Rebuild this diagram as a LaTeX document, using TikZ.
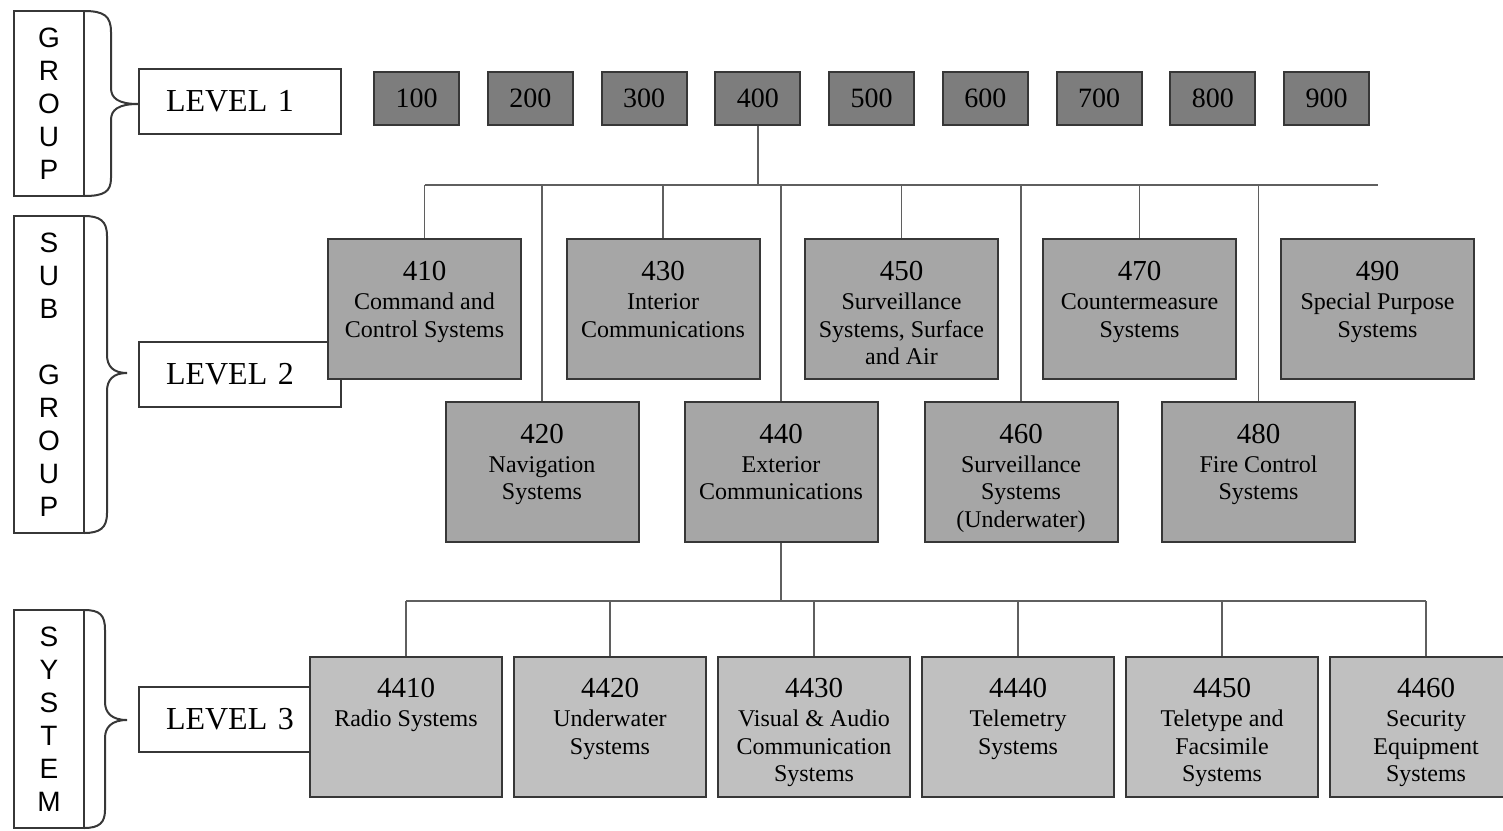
\documentclass[tikz,border=0pt]{standalone}
\usepackage{fontspec}
\setmainfont{Liberation Serif}
\setsansfont{Liberation Sans}
\usepackage{tikz}
\usetikzlibrary{positioning}

\definecolor{topgray}{RGB}{125,125,125}
\definecolor{subgray}{RGB}{166,166,166}
\definecolor{sysgray}{RGB}{192,192,192}
\definecolor{edgegray}{RGB}{55,55,55}
\definecolor{linkgray}{RGB}{95,95,95}

\newcommand{\numfont}{\fontsize{14.5}{16}\selectfont}

\begin{document}
\begin{tikzpicture}[x=0.5pt, y=-0.5pt,
  colbox/.style={draw=edgegray, line width=1pt, minimum width=35pt, inner sep=0pt, align=center, font=\sffamily\fontsize{14}{16.5}\selectfont},
  levelbox/.style={draw=edgegray, fill=white, line width=1pt, minimum height=32.5pt, text width=74pt, inner xsep=13.5pt, inner ysep=0pt, align=left, font=\fontsize{16}{18}\selectfont},
  topbox/.style={draw=edgegray, fill=topgray, line width=1pt, minimum width=42.5pt, minimum height=26.5pt, inner sep=0pt, font=\fontsize{14}{16}\selectfont},
  subbox/.style={draw=edgegray, fill=subgray, line width=1pt, minimum width=96.5pt, minimum height=70pt},
  sysbox/.style={draw=edgegray, fill=sysgray, line width=1pt, minimum width=96pt, minimum height=70pt},
  boxtext/.style={align=center, inner sep=0pt, font=\fontsize{12}{13.75}\selectfont},
  link/.style={draw=linkgray, line width=0.9pt},
  brace/.style={draw=edgegray, line width=1pt}]
  \useasboundingbox (0,0) rectangle (1503,830);
  \clip (0,0) rectangle (1503,830);

  %group columns
  \node[colbox, minimum height=92.5pt] (colg) at (49,103.5) {G\\R\\O\\U\\P};
  \node[colbox, minimum height=158.5pt] (colsg) at (49,374.5) {S\\U\\B\\[16.5pt]G\\R\\O\\U\\P};
  \node[colbox, minimum height=109pt] (colsys) at (49,719) {S\\Y\\S\\T\\E\\M};

  %braces
  \draw[brace] (84,11) .. controls (104,11) and (111,16) .. (111,32) -- (111,88)
    .. controls (111,98) and (118,104) .. (138,104)
    .. controls (118,104) and (111,110) .. (111,120) -- (111,178)
    .. controls (111,192) and (104,196) .. (84,196);
  \draw[brace] (84,216) .. controls (100,216) and (107,221) .. (107,236) -- (107,355)
    .. controls (107,366) and (113,373) .. (127,373)
    .. controls (113,373) and (107,380) .. (107,391) -- (107,513)
    .. controls (107,528) and (100,533) .. (84,533);
  \draw[brace] (84,610) .. controls (100,610) and (105,615) .. (105,630) -- (105,702)
    .. controls (105,713) and (112,720) .. (127,720)
    .. controls (112,720) and (105,727) .. (105,738) -- (105,810)
    .. controls (105,823) and (99,828) .. (84,828);

  %levels
  \node[levelbox] (lvl1) at (240,101.5) {LEVEL 1};
  \node[levelbox] (lvl2) at (240,374.5) {LEVEL 2};
  \node[levelbox] (lvl3) at (240,719.5) {LEVEL 3};

  %level 1
  \node[topbox] (n100) at (416.5,98.5) {100};
  \node[topbox] (n200) at (530.25,98.5) {200};
  \node[topbox] (n300) at (644,98.5) {300};
  \node[topbox] (n400) at (757.75,98.5) {400};
  \node[topbox] (n500) at (871.5,98.5) {500};
  \node[topbox] (n600) at (985.25,98.5) {600};
  \node[topbox] (n700) at (1099,98.5) {700};
  \node[topbox] (n800) at (1212.75,98.5) {800};
  \node[topbox] (n900) at (1326.5,98.5) {900};

  %level 2
  \node[subbox] (b410) at (424.5,309) {};
  \node[subbox] (b430) at (663,309) {};
  \node[subbox] (b450) at (901.5,309) {};
  \node[subbox] (b470) at (1139.5,309) {};
  \node[subbox] (b490) at (1377.5,309) {};
  \node[subbox] (b420) at (542,471.5) {};
  \node[subbox] (b440) at (781,471.5) {};
  \node[subbox] (b460) at (1021,471.5) {};
  \node[subbox] (b480) at (1258.5,471.5) {};

  \node[boxtext, below=11.5pt of b410.north] (t410) {{\numfont 410}\\[0.75pt]Command and\\Control Systems};
  \node[boxtext, below=11.5pt of b430.north] (t430) {{\numfont 430}\\[0.75pt]Interior\\Communications};
  \node[boxtext, below=11.5pt of b450.north] (t450) {{\numfont 450}\\[0.75pt]Surveillance\\Systems, Surface\\and Air};
  \node[boxtext, below=11.5pt of b470.north] (t470) {{\numfont 470}\\[0.75pt]Countermeasure\\Systems};
  \node[boxtext, below=11.5pt of b490.north] (t490) {{\numfont 490}\\[0.75pt]Special Purpose\\Systems};
  \node[boxtext, below=11.5pt of b420.north] (t420) {{\numfont 420}\\[0.75pt]Navigation\\Systems};
  \node[boxtext, below=11.5pt of b440.north] (t440) {{\numfont 440}\\[0.75pt]Exterior\\Communications};
  \node[boxtext, below=11.5pt of b460.north] (t460) {{\numfont 460}\\[0.75pt]Surveillance\\Systems\\(Underwater)};
  \node[boxtext, below=11.5pt of b480.north] (t480) {{\numfont 480}\\[0.75pt]Fire Control\\Systems};

  %level 3
  \node[sysbox] (b4410) at (406,727) {};
  \node[sysbox] (b4420) at (610,727) {};
  \node[sysbox] (b4430) at (814,727) {};
  \node[sysbox] (b4440) at (1018,727) {};
  \node[sysbox] (b4450) at (1222,727) {};
  \node[sysbox] (b4460) at (1426,727) {};

  \node[boxtext, below=11pt of b4410.north] (t4410) {{\numfont 4410}\\[0.75pt]Radio Systems};
  \node[boxtext, below=11pt of b4420.north] (t4420) {{\numfont 4420}\\[0.75pt]Underwater\\Systems};
  \node[boxtext, below=11pt of b4430.north] (t4430) {{\numfont 4430}\\[0.75pt]Visual \& Audio\\Communication\\Systems};
  \node[boxtext, below=11pt of b4440.north] (t4440) {{\numfont 4440}\\[0.75pt]Telemetry\\Systems};
  \node[boxtext, below=11pt of b4450.north] (t4450) {{\numfont 4450}\\[0.75pt]Teletype and\\Facsimile\\Systems};
  \node[boxtext, below=11pt of b4460.north] (t4460) {{\numfont 4460}\\[0.75pt]Security\\Equipment\\Systems};

  %buses
  \coordinate (bus1) at (0,185);
  \coordinate (bus2) at (0,601);

  %400 to sub groups
  \draw[link] (n400.south) -- (n400.south |- bus1)
    (b410.north |- bus1) -- (b490.north |- bus1)
    (b410.north) -- (b410.north |- bus1)
    (b420.north) -- (b420.north |- bus1)
    (b430.north) -- (b430.north |- bus1)
    (b440.north) -- (b440.north |- bus1)
    (b450.north) -- (b450.north |- bus1)
    (b460.north) -- (b460.north |- bus1)
    (b470.north) -- (b470.north |- bus1)
    (b480.north) -- (b480.north |- bus1);

  %440 to systems
  \draw[link] (b440.south) -- (b440.south |- bus2)
    (b4410.north |- bus2) -- (b4460.north |- bus2)
    (b4410.north) -- (b4410.north |- bus2)
    (b4420.north) -- (b4420.north |- bus2)
    (b4430.north) -- (b4430.north |- bus2)
    (b4440.north) -- (b4440.north |- bus2)
    (b4450.north) -- (b4450.north |- bus2)
    (b4460.north) -- (b4460.north |- bus2);
\end{tikzpicture}
\end{document}
